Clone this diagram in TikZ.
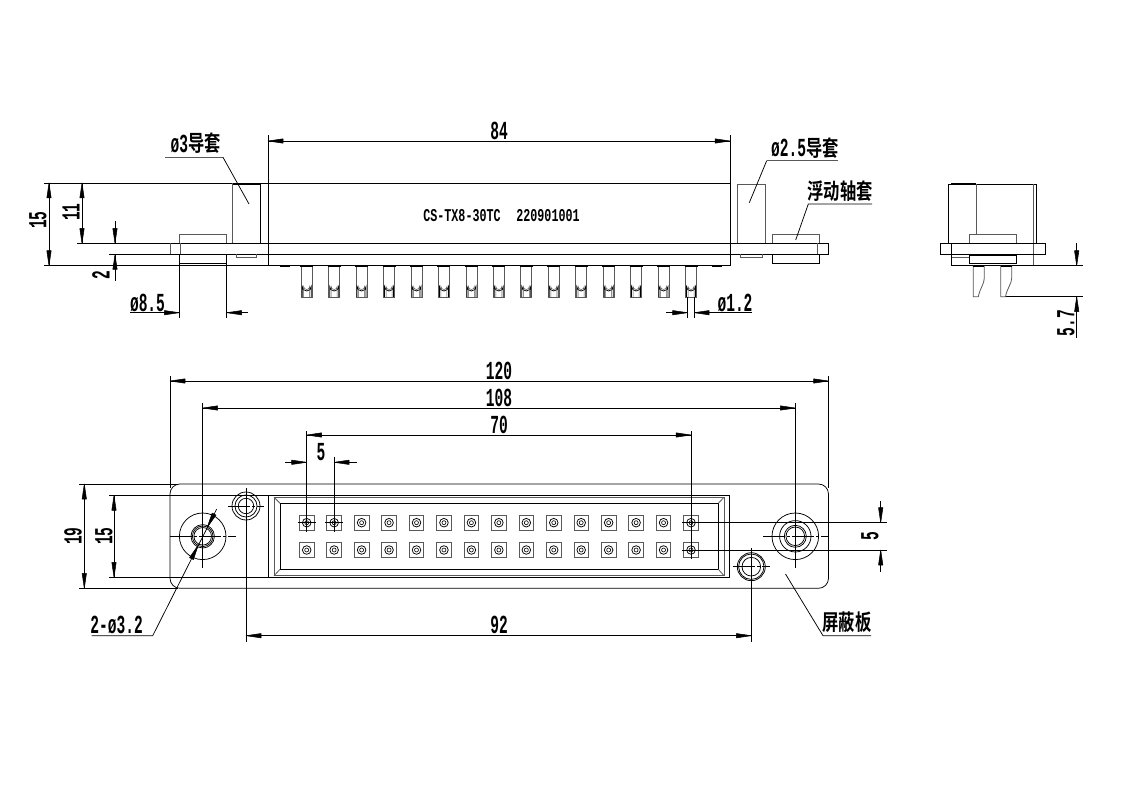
\documentclass[tikz,border=0pt]{standalone}
\usepackage{fontspec}
\usepackage{graphicx}
\setmainfont{Liberation Mono}[BoldFont={Liberation Mono Bold}]
\newfontfamily\cjk{Noto Sans CJK SC Bold}
\usetikzlibrary{calc}
\newcommand\dimt[1]{\scalebox{.56}[1]{\fontsize{26}{26}\bfseries\selectfont #1}}
\newcommand\smallt[1]{\scalebox{.65}[1]{\fontsize{18}{18}\bfseries\selectfont #1}}
\newcommand\cjkt[1]{\scalebox{.74}[1]{\cjk\fontsize{22}{22}\selectfont #1}}
\newcommand\tipat[2]{\coordinate (tb) at ($#1!15pt!#2$);\filldraw[black,line width=.5pt,line join=round] #1 -- ($(tb)!2.2pt!90:#2$) -- ($(tb)!2.2pt!-90:#2$) -- cycle;}
\newcommand\dimone[2]{\draw[dimline] #1 -- #2;\tipat{#2}{#1}}
\newcommand\dimboth[2]{\draw[dimline] #1 -- #2;\tipat{#2}{#1}\tipat{#1}{#2}}
\tikzset{
  line/.style={line width=.75pt,black},
  soft/.style={line width=.8pt,black!65},
  thick line/.style={line width=1.3pt,black},
  dimline/.style={line width=.7pt,black},
  ctr/.style={line width=.6pt,black,dash pattern=on 22pt off 2pt on 3pt off 2pt},
  txt/.style={inner sep=0pt,outer sep=0pt,anchor=center},
}
\begin{document}
\begin{tikzpicture}[x=1pt,y=-1pt]
\useasboundingbox (0,0) rectangle (1122,794);
\fill[white] (0,0) rectangle (1122,794);
% ---------- front elevation
\draw[line] (44,183) -- (268,183);
\draw[line] (268,183) -- (730,183);
\draw[line] (44,265.7) -- (268,265.7);
\draw[line] (268,135.5) -- (268,265.7) -- (730,265.7) -- (730,135.5);
% board
\draw[line] (77,243.5) -- (828.5,243.5);
\draw[line] (109,254.5) -- (828.5,254.5);
\draw[line] (828.5,243.5) -- (828.5,254.5);
\draw[soft] (170,243.5) -- (170,254.5) (180.7,243.5) -- (180.7,254.5) (817,243.5) -- (817,254.5);
% sleeves
\draw[soft] (179.3,243.5) -- (179.3,234.7) -- (226.7,234.7) -- (226.7,243.5);
\draw[thick line] (179.3,254.8) -- (226.7,254.8);
\draw[line] (179.3,254.5) rectangle (226.7,263.3);
\draw[soft] (772,243.5) -- (772,234.7) -- (819,234.7) -- (819,243.5);
\draw[line] (772,254.5) rectangle (819,263.3);
% guides
\draw[soft] (232.7,243.5) -- (232.7,183.5);
\draw[line] (232.7,184) -- (260.3,184) -- (260.3,243.5);
\draw[soft] (737.3,243.5) -- (737.3,184.3) -- (765.7,184.3) -- (765.7,243.5);
\draw[soft] (236.7,254.5) -- (236.7,257.5) -- (256.7,257.5) -- (256.7,254.5);
\draw[soft] (740.7,254.5) -- (740.7,257.5) -- (762.3,257.5) -- (762.3,254.5);
\draw[thick line] (280,266.3) -- (290,266.3) (712,266.3) -- (722,266.3);
% pins
\foreach \i in {0,...,14}{
  \pgfmathsetmacro\c{306.7+27.45*\i}
  \draw[soft] (\c-5.5,265.7) -- (\c-5.5,297) -- (\c+5.5,297) -- (\c+5.5,265.7);
  \draw[thick line] (\c-6.5,266.2) -- (\c+6.5,266.2);
  \draw[line] (\c-4.5,297) -- (\c-4.5,286.5) arc[start angle=180,end angle=0,radius=4.5] -- (\c+4.5,297);
  \draw[soft,line width=.5pt] (\c-3,297) -- (\c-3,286.5) arc[start angle=180,end angle=0,radius=3] -- (\c+3,297);
}
% dims top view
\dimboth{(268,141)}{(730,141)}
\node[txt] (d84) at (499,131) {\dimt{84}};
\dimboth{(49,183)}{(49,265.7)}
\node[txt,rotate=90] (d15a) at (38,220) {\dimt{15}};
\dimboth{(82,183)}{(82,243.5)}
\node[txt,rotate=90] (d11) at (71,212) {\dimt{11}};
\dimone{(115,221.5)}{(115,243.5)}
\dimone{(115,281)}{(115,254.5)}
\node[txt,rotate=90] (d2) at (101,275) {\dimt{2}};
% dia 8.5
\draw[line] (179.3,263) -- (179.3,318) (226.7,263) -- (226.7,318);
\dimone{(130,312.7)}{(179.3,312.7)}
\dimone{(248,312.7)}{(226.7,312.7)}
\node[txt] (d85) at (147.5,303) {\dimt{ø8.5}};
% dia 1.2
\draw[line] (687.6,297) -- (687.6,318) (694.2,297) -- (694.2,318);
\dimone{(666,312.7)}{(687.6,312.7)}
\dimone{(711,312.7)}{(694.2,312.7)}
\draw[line] (711,312.7) -- (752,312.7);
\node[txt] (d12) at (735,303) {\dimt{ø1.2}};
% leaders
\node[txt,anchor=east] (l3a) at (188,143.5) {\dimt{ø3}};
\node[txt,anchor=west] (l3) at (188,143.5) {\cjkt{导套}};
\draw[soft] (165,157.3) -- (223,157.3);
\draw[line] (223,157.3) -- (249,204);
\node[txt,anchor=east] (l25a) at (806,148) {\dimt{ø2.5}};
\node[txt,anchor=west] (l25) at (806,148) {\cjkt{导套}};
\draw[soft] (838,160.7) -- (766.7,160.7);
\draw[line] (766.7,160.7) -- (749.3,202.7);
\node[txt] (lf) at (840,191) {\cjkt{浮动轴套}};
\draw[line] (872,204) -- (808.3,204) -- (795.7,240);
\node[txt] (lbl) at (462,215.5) {\smallt{CS-TX8-30TC}};
\node[txt] (lnum) at (548,215.5) {\smallt{220901001}};
% ---------- side view
\draw[line] (948.3,243.5) -- (948.3,184) -- (1036.7,184) -- (1036.7,243.5);
\draw[soft] (1033.6,184) -- (1033.6,265.7);
\draw[thick line] (951,184) -- (976,184);
\draw[soft] (976,184) -- (976,234.7);
\draw[soft] (969.3,243.5) -- (969.3,234.7) -- (1016,234.7) -- (1016,243.5);
\draw[line] (940,243.5) rectangle (1045,254.5);
\draw[line] (951.3,243.5) -- (951.3,265.7) -- (1033.6,265.7);
\draw[soft] (952.3,257.3) -- (969.3,257.3);
\draw[line] (969.3,254.5) rectangle (1016,263.3);
\draw[thick line] (969.3,255) -- (1016,255);
\draw[soft] (973.3,265.7) -- (973.3,296.7) -- (978.3,296.7) .. controls (980,288) and (984.3,284) .. (984.3,278) -- (984.3,265.7);
\draw[soft] (1000.7,265.7) -- (1000.7,296.7) -- (1005.5,296.7) .. controls (1007,288) and (1011.7,284) .. (1011.7,278) -- (1011.7,265.7);
\draw[thick line] (973.3,266.2) -- (984.3,266.2) (1000.7,266.2) -- (1011.7,266.2);
\draw[line] (1033.6,265.7) -- (1082.7,265.7);
\draw[line] (1005.5,296.7) -- (1082.7,296.7);
\dimone{(1076.7,243)}{(1076.7,265.7)}
\dimone{(1076.7,338)}{(1076.7,296.7)}
\node[txt,rotate=90] (d57) at (1066,323) {\dimt{5.7}};
% ---------- bottom view
\draw[line,rounded corners=10pt] (170,484) rectangle (828.5,588.3);
\draw[line] (268.7,495.3) rectangle (729.7,577.3);
\draw[soft] (274,497.3) rectangle (724,575.7);
\draw[line] (280,503.3) rectangle (718.3,569.3);
\draw[soft] (274,497.3) -- (280,503.3) (724,497.3) -- (718.3,503.3) (274,575.7) -- (280,569.3) (724,575.7) -- (718.3,569.3);
% pads
\foreach \i in {0,...,14}{
  \pgfmathsetmacro\c{306.7+27.45*\i}
  \foreach \y in {522.7,550}{
    \draw[soft] (\c-7.3,\y-7.3) rectangle (\c+7.3,\y+7.3);
    \draw[line] (\c,\y) circle[radius=4.3];
    \draw[line,line width=.6pt] (\c,\y) circle[radius=2];
  }
}
\foreach \p/\y in {306.7/522.7,334.15/522.7,691/522.7,691/550}{
  \draw[line,line width=.6pt] (\p-9,\y) -- (\p+9,\y) (\p,\y-9) -- (\p,\y+9);
}
% holes
\foreach \c/\r in {202.7/23.3,202.7/11.7,202.7/10.3,202.7/8.8,795.3/23.3,795.3/15.7,795.3/11,795.3/9.3}{
  \draw[line] (\c,536.3) circle[radius=\r];
}
\draw[ctr] (170,536.3) -- (235.7,536.3);
\draw[ctr] (763.3,536.3) -- (828.5,536.3);
\draw[line] (202.7,403) -- (202.7,568);
\draw[line] (795.3,403) -- (795.3,568);
% guides
\foreach \r in {14,11,7.7}{\draw[line] (246,506) circle[radius=\r];}
\foreach \r in {14,12.7,9.3}{\draw[line] (751.3,566.7) circle[radius=\r];}
\draw[ctr] (228,506) -- (264,506);
\draw[ctr] (733,566.7) -- (769.5,566.7);
\draw[line] (246,488.3) -- (246,641.7);
\draw[line] (751.3,548.3) -- (751.3,641.7);
% dims bottom
\draw[line] (170,376) -- (170,488) (828.5,376) -- (828.5,488);
\dimboth{(170,381)}{(828.5,381)}
\node[txt] (d120) at (499,371) {\dimt{120}};
\dimboth{(202.7,408)}{(795.3,408)}
\node[txt] (d108) at (499,398) {\dimt{108}};
\draw[line] (306.7,431) -- (306.7,531.7) (691,431) -- (691,559);
\dimboth{(306.7,435)}{(691,435)}
\node[txt] (d70) at (499,425) {\dimt{70}};
\draw[line] (334.15,456.7) -- (334.15,531.7);
\dimone{(285,462.3)}{(306.7,462.3)}
\dimone{(356.7,462.3)}{(334.15,462.3)}
\node[txt] (d5a) at (321,452) {\dimt{5}};
\dimboth{(246,635.7)}{(751.3,635.7)}
\node[txt] (d92) at (499,625) {\dimt{92}};
\draw[line] (79.3,484) -- (178,484) (79.3,588.3) -- (178,588.3);
\dimboth{(84.3,484)}{(84.3,588.3)}
\node[txt,rotate=90] (d19) at (73,536) {\dimt{19}};
\draw[line] (109,495.3) -- (268.7,495.3) (109,577.3) -- (268.7,577.3);
\dimboth{(114,495.3)}{(114,577.3)}
\node[txt,rotate=90] (d15b) at (104,536) {\dimt{15}};
\draw[line] (691,522.7) -- (886.7,522.7) (691,550) -- (886.7,550);
\dimone{(880.7,501)}{(880.7,522.7)}
\dimone{(880.7,571.7)}{(880.7,550)}
\node[txt,rotate=90] (d5b) at (870,536) {\dimt{5}};
% 2-dia 3.2
\draw[line] (91.7,635.7) -- (152.7,635.7) -- (216.7,509);
\tipat{(198.2,545.2)}{(190.5,560.5)}
\tipat{(207.2,527.4)}{(216.7,509)}
\node[txt] (l32) at (116.7,624.5) {\dimt{2-ø3.2}};
% shield label
\draw[line] (785.5,574) -- (823,635.7) -- (871,635.7);
\node[txt] (lp) at (847,622) {\cjkt{屏蔽板}};
\end{tikzpicture}
\end{document}
